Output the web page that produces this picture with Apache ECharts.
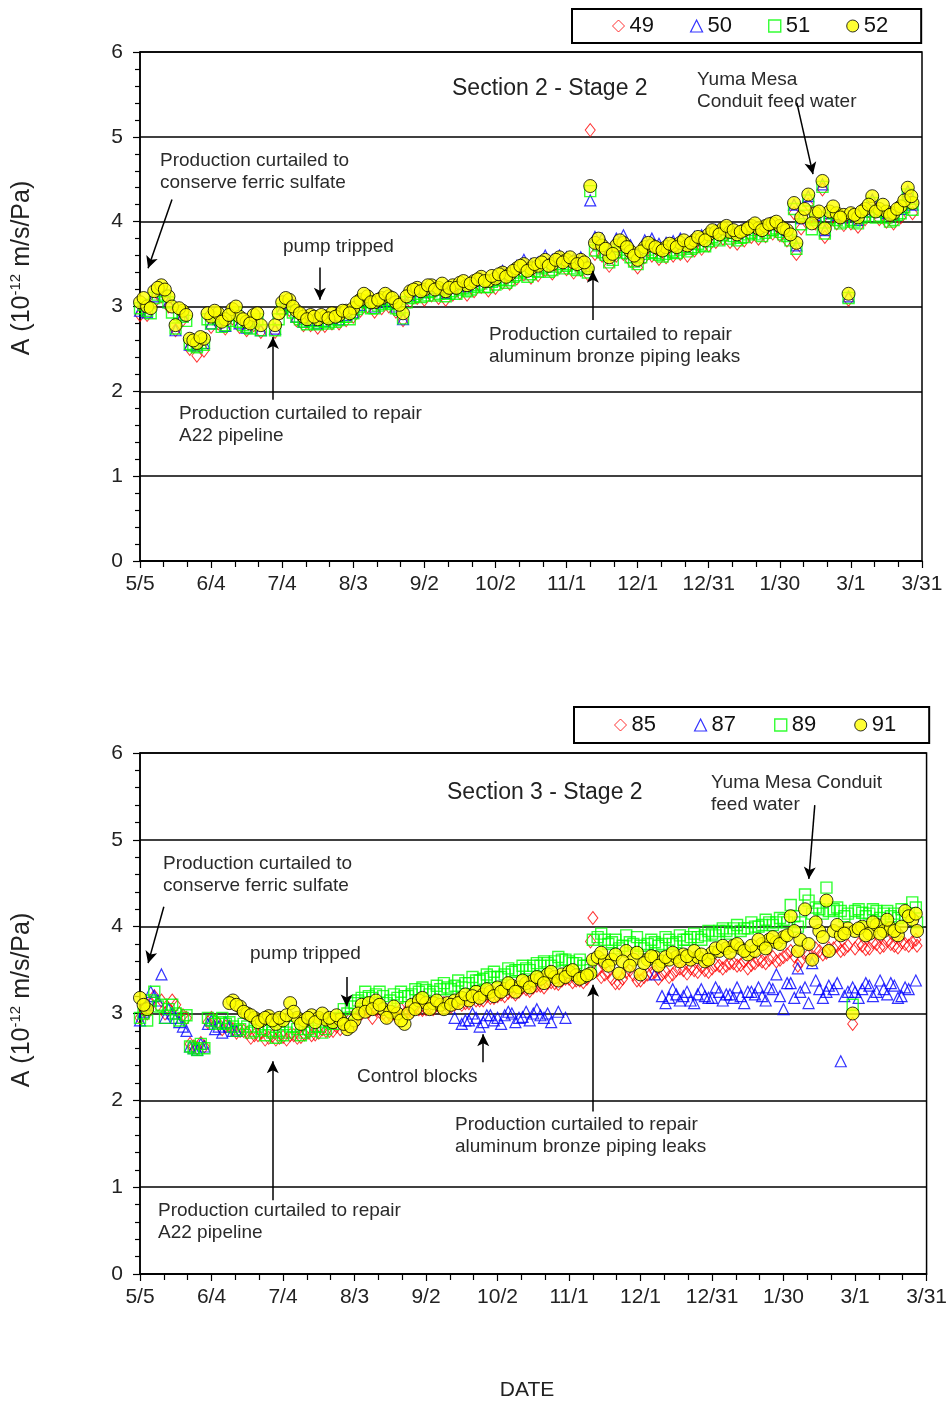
<!DOCTYPE html>
<html>
<head>
<meta charset="utf-8">
<title>Section 2 / Section 3 - Stage 2</title>
<script src="https://cdn.jsdelivr.net/npm/echarts@6/dist/echarts.min.js"></script>
<style>
  html, body { margin: 0; padding: 0; background: #fff; }
  #chart { width: 950px; height: 1402px; }
</style>
</head>
<body>
<div id="chart"></div>
<script>
// x = days after 5/5, ticks every 30 days
const dateLabels = ['5/5', '6/4', '7/4', '8/3', '9/2', '10/2', '11/1', '12/1', '12/31', '1/30', '3/1', '3/31']

// ---- Section 2 - Stage 2 ----
const days1 = [0, 3, 6, 9, 12, 15, 18, 21, 24, 27, 30, 33, 36, 39, 42, 45, 48, 51,
  57, 60, 63, 66, 69, 72, 75, 78, 81, 84, 87, 90, 93, 96, 99, 102, 105, 108, 111, 114, 117, 120,
  123, 126, 129, 132, 135, 138, 141, 144, 147, 150, 153, 156, 159, 162, 165, 168, 171, 174, 177, 180,
  183, 186, 189, 190,
  192, 195, 198, 201, 204, 207, 210, 213, 216, 219, 222, 225, 228, 231, 234, 237, 240, 243, 246, 249,
  252, 255, 258, 261, 264, 267, 270, 273, 276, 277, 279, 282, 285, 288, 289, 291, 294, 297, 299,
  300, 303, 306, 309, 312, 315, 318, 321, 324, 326]

const s49 = [2.90, 2.90, 3.05, 3.12, 3.00, 2.72, 2.84, 2.50, 2.42, 2.48, 2.76, 2.80, 2.74, 2.86, 2.76, 2.72, 2.78, 2.70,
  2.70, 2.93, 2.96, 2.84, 2.78, 2.78, 2.75, 2.77, 2.80, 2.80, 2.84, 2.88, 2.95, 3.00, 2.94, 2.98, 3.00, 2.94, 2.84, 3.06, 3.10, 3.08,
  3.13, 3.10, 3.08, 3.14, 3.16, 3.14, 3.18, 3.23, 3.19, 3.22, 3.28, 3.27, 3.33, 3.38, 3.34, 3.37, 3.43, 3.39, 3.46, 3.44,
  3.40, 3.43, 3.38, 5.08,
  3.62, 3.60, 3.48, 3.60, 3.62, 3.54, 3.46, 3.58, 3.60, 3.56, 3.58, 3.60, 3.62, 3.60, 3.66, 3.68, 3.72, 3.76, 3.80, 3.76,
  3.74, 3.78, 3.82, 3.80, 3.83, 3.86, 3.84, 3.78, 4.10, 3.62, 3.92, 4.20, 3.98, 4.38, 3.82, 4.00, 3.98, 3.96, 3.08,
  3.98, 3.94, 4.03, 4.18, 4.03, 4.00, 3.98, 4.05, 4.28, 4.10]

const s50 = [2.95, 2.93, 3.12, 3.20, 3.05, 2.72, 2.90, 2.55, 2.54, 2.57, 2.80, 2.85, 2.77, 2.90, 2.80, 2.75, 2.83, 2.72,
  2.74, 2.98, 3.02, 2.88, 2.82, 2.84, 2.80, 2.83, 2.86, 2.85, 2.90, 2.93, 3.02, 3.08, 3.00, 3.05, 3.07, 3.00, 2.85, 3.14, 3.18, 3.17,
  3.22, 3.20, 3.16, 3.22, 3.26, 3.24, 3.30, 3.34, 3.30, 3.34, 3.42, 3.40, 3.48, 3.55, 3.50, 3.52, 3.60, 3.55, 3.60, 3.58,
  3.56, 3.58, 3.48, 4.25,
  3.82, 3.80, 3.66, 3.80, 3.84, 3.72, 3.62, 3.78, 3.80, 3.74, 3.75, 3.77, 3.80, 3.76, 3.82, 3.84, 3.88, 3.90, 3.94, 3.90,
  3.87, 3.92, 3.96, 3.93, 3.96, 3.98, 3.96, 3.90, 4.20, 3.72, 4.04, 4.30, 4.08, 4.44, 3.90, 4.10, 4.08, 4.05, 3.12,
  4.08, 4.02, 4.12, 4.26, 4.12, 4.10, 4.08, 4.15, 4.36, 4.20]

const s51 = [2.98, 2.95, 3.10, 3.18, 3.05, 2.74, 2.88, 2.56, 2.52, 2.55, 2.80, 2.86, 2.78, 2.90, 2.82, 2.76, 2.82, 2.72,
  2.72, 2.97, 3.00, 2.88, 2.82, 2.83, 2.79, 2.82, 2.85, 2.84, 2.88, 2.92, 3.00, 3.05, 2.98, 3.03, 3.05, 2.98, 2.86, 3.10, 3.15, 3.13,
  3.18, 3.15, 3.12, 3.18, 3.20, 3.18, 3.23, 3.27, 3.23, 3.26, 3.32, 3.31, 3.37, 3.42, 3.38, 3.41, 3.47, 3.43, 3.50, 3.48,
  3.45, 3.47, 3.40, 4.36,
  3.66, 3.64, 3.52, 3.64, 3.67, 3.58, 3.50, 3.62, 3.64, 3.61, 3.62, 3.64, 3.67, 3.65, 3.70, 3.72, 3.77, 3.80, 3.84, 3.80,
  3.78, 3.82, 3.87, 3.85, 3.87, 3.90, 3.88, 3.83, 4.15, 3.68, 3.97, 4.25, 4.02, 4.41, 3.86, 4.04, 4.02, 4.00, 3.10,
  4.02, 3.98, 4.07, 4.22, 4.07, 4.05, 4.02, 4.10, 4.32, 4.14]

const s52 = [3.05, 3.00, 3.18, 3.25, 3.12, 2.78, 2.95, 2.62, 2.57, 2.62, 2.88, 2.92, 2.85, 2.97, 2.88, 2.82, 2.90, 2.78,
  2.78, 3.05, 3.08, 2.95, 2.88, 2.90, 2.85, 2.88, 2.92, 2.90, 2.95, 2.98, 3.08, 3.12, 3.05, 3.10, 3.12, 3.05, 2.92, 3.18, 3.22, 3.20,
  3.25, 3.22, 3.18, 3.25, 3.28, 3.25, 3.30, 3.35, 3.30, 3.33, 3.40, 3.38, 3.45, 3.50, 3.45, 3.48, 3.55, 3.50, 3.58, 3.55,
  3.52, 3.55, 3.45, 4.42,
  3.75, 3.72, 3.58, 3.72, 3.75, 3.65, 3.55, 3.70, 3.72, 3.68, 3.70, 3.72, 3.75, 3.72, 3.78, 3.80, 3.85, 3.88, 3.92, 3.88,
  3.85, 3.90, 3.95, 3.92, 3.95, 3.98, 3.95, 3.90, 4.22, 3.75, 4.05, 4.32, 4.10, 4.48, 3.92, 4.12, 4.10, 4.08, 3.15,
  4.10, 4.05, 4.15, 4.30, 4.15, 4.12, 4.10, 4.18, 4.40, 4.22]

// in-between readings (blocks 51 and 52)
const days1b = [1.5, 4.5, 7.5, 10.5, 13.5, 16.5, 19.5, 22.5, 25.5, 28.5, 31.5, 34.5, 37.5, 40.5, 43.5, 46.5, 49.5,
  58.5, 61.5, 64.5, 67.5, 70.5, 73.5, 76.5, 79.5, 82.5, 85.5, 88.5, 91.5, 94.5, 97.5, 100.5, 103.5, 106.5, 109.5, 112.5, 115.5,
  118.5, 121.5, 124.5, 127.5, 130.5, 133.5, 136.5, 139.5, 142.5, 145.5, 148.5, 151.5, 154.5, 157.5, 160.5, 163.5, 166.5, 169.5,
  172.5, 175.5, 178.5, 181.5, 184.5, 187.5,
  193.5, 196.5, 199.5, 202.5, 205.5, 208.5, 211.5, 214.5, 217.5, 220.5, 223.5, 226.5, 229.5, 232.5, 235.5, 238.5, 241.5, 244.5,
  247.5, 250.5, 253.5, 256.5, 259.5, 262.5, 265.5, 268.5, 271.5, 274.5,
  280.5, 283.5, 286.5, 292.5, 295.5,
  301.5, 304.5, 307.5, 310.5, 313.5, 316.5, 319.5, 322.5, 325.5]

const s51b = [3.02, 2.92, 3.14, 3.12, 2.93, 2.90, 2.83, 2.54, 2.57, 2.85, 2.88, 2.76, 2.83, 2.92, 2.78, 2.74, 2.85,
  2.85, 3.02, 2.93, 2.85, 2.79, 2.81, 2.83, 2.80, 2.82, 2.88, 2.85, 2.97, 3.07, 2.98, 3.01, 3.08, 3.03, 2.96, 3.05, 3.12,
  3.11, 3.17, 3.13, 3.20, 3.15, 3.15, 3.22, 3.20, 3.25, 3.23, 3.29, 3.31, 3.28, 3.35, 3.40, 3.35, 3.42, 3.45,
  3.41, 3.47, 3.45, 3.50, 3.43, 3.45,
  3.72, 3.61, 3.55, 3.70, 3.63, 3.53, 3.58, 3.67, 3.63, 3.59, 3.66, 3.63, 3.70, 3.68, 3.74, 3.71, 3.82, 3.78,
  3.87, 3.83, 3.81, 3.85, 3.90, 3.83, 3.90, 3.92, 3.85, 3.78,
  4.07, 3.91, 4.05, 4.10, 3.98,
  4.00, 4.05, 4.12, 4.05, 4.12, 4.00, 4.08, 4.17, 4.22]

const s52b = [3.10, 2.98, 3.22, 3.20, 3.00, 2.98, 2.90, 2.60, 2.64, 2.92, 2.95, 2.82, 2.90, 3.00, 2.85, 2.80, 2.92,
  2.92, 3.10, 3.00, 2.92, 2.85, 2.88, 2.90, 2.86, 2.88, 2.95, 2.92, 3.05, 3.15, 3.05, 3.08, 3.15, 3.10, 3.02, 3.12, 3.20,
  3.18, 3.25, 3.20, 3.27, 3.22, 3.22, 3.30, 3.27, 3.32, 3.30, 3.36, 3.38, 3.35, 3.42, 3.48, 3.42, 3.50, 3.52,
  3.48, 3.55, 3.52, 3.58, 3.50, 3.52,
  3.80, 3.68, 3.62, 3.78, 3.70, 3.60, 3.65, 3.75, 3.70, 3.66, 3.74, 3.70, 3.78, 3.75, 3.82, 3.78, 3.90, 3.85,
  3.95, 3.90, 3.88, 3.92, 3.98, 3.90, 3.97, 4.00, 3.92, 3.85,
  4.15, 3.98, 4.12, 4.18, 4.05,
  4.08, 4.12, 4.20, 4.12, 4.20, 4.08, 4.15, 4.25, 4.30]

// ---- Section 3 - Stage 2 ----
const days2 = [0, 3, 6, 9, 12, 15, 18, 21, 24, 27, 30, 33, 36,
  39, 42, 45, 48, 51, 54, 57, 60, 63, 66, 69, 72, 75, 78, 81, 84, 87, 90, 93, 96, 99, 102, 105, 108, 111,
  114, 117, 120, 123, 126, 129, 132, 135, 138, 141, 144, 147, 150, 153, 156, 159, 162, 165, 168, 171,
  174, 177, 180, 183, 186, 189, 190,
  192, 195, 198, 201, 204, 207, 210, 213, 216, 219, 222, 225, 228, 231, 234, 237, 240, 243, 246, 249,
  252, 255, 258, 261, 264, 267, 270, 273, 276, 277, 279, 282, 285, 288, 289, 291, 294, 297, 299,
  300, 303, 306, 309, 312, 315, 318, 321, 324, 326]

const s85 = [2.95, 3.00, 3.20, 3.15, 3.05, 3.10, 2.98, 2.65, 2.60, 2.62, 2.95, 2.88, 2.85,
  2.82, 2.80, 2.78, 2.75, 2.78, 2.72, 2.70, 2.73, 2.75, 2.72, 2.76, 2.75, 2.78, 2.80, 2.80, 2.82, 2.85, 2.88, 3.00, 3.02, 3.05, 3.00, 2.98, 2.95, 3.00,
  3.02, 3.05, 3.05, 3.05, 3.06, 3.08, 3.10, 3.10, 3.12, 3.15, 3.15, 3.18, 3.20, 3.20, 3.25, 3.25, 3.28, 3.30, 3.32, 3.35,
  3.35, 3.38, 3.40, 3.38, 3.36, 3.83, 4.10,
  3.50, 3.45, 3.40, 3.35, 3.48, 3.45, 3.38, 3.45, 3.48, 3.45, 3.42, 3.50, 3.50, 3.52, 3.48, 3.50, 3.52, 3.55, 3.55, 3.58,
  3.56, 3.52, 3.58, 3.60, 3.62, 3.60, 3.65, 3.72, 3.55, 3.60, 3.70, 3.62, 3.72, 3.70, 3.75, 3.75, 3.72, 3.78, 2.88,
  3.75, 3.78, 3.75, 3.80, 3.78, 3.80, 3.76, 3.80, 3.82, 3.78]

const s87 = [2.92, 3.10, 3.20, 3.45, 3.05, 2.95, 2.85, 2.62, 2.58, 2.62, 2.92, 2.85, 2.90,
  2.80, null, null, null, null, null, null, null, null, null, null, null, null, null, null, null, null, null, null, null, null, null, null,
  null, null, null, null, null, null, null, null, 2.95, 2.88, 2.92, 2.95, 2.90, 2.98, 2.95, 2.98, 3.00, 2.95, 3.02, 3.00,
  2.98, 3.00, null, null, null, null, null,
  null, null, null, null, null, null, null, null, null, null, 3.45, 3.20, 3.18, 3.22, 3.20, 3.15, 3.22, 3.20, 3.18, 3.25,
  3.22, 3.18, 3.20, 3.25, 3.22, 3.20, 3.30, 3.45, 3.05, 3.35, 3.52, 3.25, 3.30, 3.58, 3.28, 3.25, 3.32, 3.28, 2.45,
  3.25, 3.30, 3.25, 3.28, 3.32, 3.25, 3.28, 3.35, 3.18, 3.30]

const s89 = [2.95, 2.92, 3.25, 3.10, 3.05, 3.00, 2.95, 2.62, 2.58, 2.60, 2.92, 2.90, 2.88,
  2.85, 2.82, 2.85, 2.80, 2.82, 2.80, 2.72, 2.75, 2.85, 2.82, 2.78, 2.80, 2.85, 2.82, 2.88, 2.95, 3.00, 3.12, 3.18, 3.20, 3.22, 3.20, 3.15, 3.18, 3.20,
  3.22, 3.25, 3.27, 3.25, 3.28, 3.30, 3.32, 3.30, 3.35, 3.38, 3.40, 3.42, 3.42, 3.45, 3.48, 3.50, 3.52, 3.55, 3.55, 3.58,
  3.60, 3.62, 3.60, 3.58, 3.55, 3.50, 3.85,
  3.88, 3.85, 3.82, 3.75, 3.90, 3.80, 3.78, 3.80, 3.82, 3.80, 3.85, 3.82, 3.85, 3.88, 3.88, 3.90, 3.92, 3.95, 3.95, 3.98,
  3.95, 3.98, 4.00, 4.02, 4.05, 4.05, 4.08, 4.25, 4.00, 4.05, 4.37, 4.15, 4.20, 4.45, 4.18, 4.20, 4.18, 4.15, 3.10,
  4.18, 4.16, 4.15, 4.18, 4.15, 4.12, 4.10, 4.12, 4.28, 4.05]

const s91 = [3.18, 3.05, null, null, null, null, null, null, null, null, null, null, null,
  3.15, 3.08, 3.00, 2.95, 2.92, 2.97, 2.88, 2.92, 3.12, 2.95, 2.92, 2.98, 2.95, 2.93, 2.90, 2.93, 2.82, 2.92, 3.10, 3.12, 3.15, 3.05, 3.02, 3.00, 2.88,
  3.10, 3.15, 3.12, 3.12, 3.10, 3.12, 3.15, 3.18, 3.15, 3.25, 3.22, 3.25, 3.30, 3.28, 3.32, 3.30, 3.35, 3.38, 3.40, 3.45,
  3.42, 3.45, 3.48, 3.44, 3.42, 3.46, 3.62,
  3.65, 3.60, 3.62, 3.46, 3.72, 3.62, 3.45, 3.62, 3.65, 3.60, 3.62, 3.65, 3.68, 3.62, 3.65, 3.60, 3.70, 3.72, 3.75, 3.78,
  3.75, 3.68, 3.72, 3.80, 3.85, 3.82, 3.88, 4.12, 3.72, 3.85, 4.20, 3.62, 3.95, 4.30, 3.72, 3.95, 3.90, 3.98, 3.00,
  3.95, 4.00, 3.92, 4.02, 3.95, 3.98, 3.90, 4.18, 4.08, 3.95]

// in-between readings (all four blocks)
const days2b = [1.5, 4.5, 7.5, 10.5, 13.5, 16.5, 19.5, 22.5, 25.5, 28.5, 31.5, 34.5,
  37.5, 40.5, 43.5, 46.5, 49.5, 52.5, 55.5, 58.5, 61.5, 64.5, 67.5, 70.5, 73.5, 76.5, 79.5, 82.5, 85.5, 88.5, 91.5, 94.5,
  97.5, 100.5, 103.5, 106.5, 109.5, 112.5, 115.5, 118.5, 121.5, 124.5, 127.5, 130.5, 133.5, 136.5, 139.5, 142.5, 145.5,
  148.5, 151.5, 154.5, 157.5, 160.5, 163.5, 166.5, 169.5, 172.5, 175.5, 178.5, 181.5, 184.5, 187.5,
  193.5, 196.5, 199.5, 202.5, 205.5, 208.5, 211.5, 214.5, 217.5, 220.5, 223.5, 226.5, 229.5, 232.5, 235.5, 238.5, 241.5, 244.5,
  247.5, 250.5, 253.5, 256.5, 259.5, 262.5, 265.5, 268.5, 271.5, 274.5,
  280.5, 283.5, 286.5, 292.5, 295.5,
  301.5, 304.5, 307.5, 310.5, 313.5, 316.5, 319.5, 322.5, 325.5]

const s85b = [3.05, 3.12, 3.10, 3.00, 3.15, 3.00, 2.95, 2.62, 2.66, 2.90, 2.92, 2.82,
  2.85, 2.78, 2.80, 2.72, 2.75, 2.70, 2.74, 2.72, 2.70, 2.75, 2.73, 2.78, 2.76, 2.82, 2.80, 2.85, 2.90, 2.95, 2.98, 3.05,
  2.95, 3.02, 2.96, 3.00, 3.05, 3.02, 3.08, 3.04, 3.06, 3.10, 3.12, 3.08, 3.14, 3.12, 3.18, 3.15, 3.20,
  3.18, 3.22, 3.24, 3.22, 3.30, 3.26, 3.32, 3.30, 3.36, 3.34, 3.40, 3.36, 3.38, 3.40,
  3.42, 3.48, 3.35, 3.40, 3.50, 3.38, 3.42, 3.46, 3.40, 3.48, 3.45, 3.52, 3.46, 3.50, 3.54, 3.48, 3.56, 3.52,
  3.58, 3.55, 3.60, 3.56, 3.62, 3.58, 3.65, 3.62, 3.68, 3.66,
  3.68, 3.75, 3.68, 3.78, 3.74,
  3.80, 3.74, 3.82, 3.76, 3.84, 3.78, 3.82, 3.78, 3.85]

const s87b = [3.02, 3.25, 3.15, 2.95, 3.00, 2.90, 2.80, 2.60, 2.65, 2.88, 2.82, 2.78,
  2.85, 2.80, null, null, null, null, null, null, null, null, null, null, null, null, null, null, null, null, null, null,
  null, null, null, null, null, null, null, null, null, null, null, null, null, 2.92, 3.00, 2.85, 2.98,
  2.92, 2.88, 3.02, 2.90, 2.96, 2.92, 3.05, 2.95, 2.90, 3.02, 2.95, null, null, null,
  null, null, null, null, null, null, null, null, null, 3.12, 3.28, 3.15, 3.25, 3.12, 3.28, 3.18, 3.30, 3.15,
  3.22, 3.30, 3.12, 3.25, 3.30, 3.15, 3.28, 3.20, 3.35, 3.18,
  3.12, 3.38, 3.18, 3.35, 3.20,
  3.18, 3.35, 3.20, 3.38, 3.22, 3.32, 3.20, 3.28, 3.38]

const s89b = [3.00, 3.15, 3.08, 2.95, 3.10, 2.92, 2.98, 2.60, 2.65, 2.95, 2.88, 2.95,
  2.90, 2.80, 2.88, 2.78, 2.85, 2.75, 2.78, 2.80, 2.78, 2.85, 2.75, 2.82, 2.85, 2.78, 2.90, 2.92, 3.05, 3.08, 3.15, 3.25,
  3.18, 3.25, 3.12, 3.22, 3.25, 3.20, 3.28, 3.30, 3.22, 3.32, 3.35, 3.28, 3.38, 3.35, 3.42, 3.38, 3.45,
  3.48, 3.42, 3.52, 3.50, 3.55, 3.50, 3.58, 3.60, 3.55, 3.65, 3.62, 3.58, 3.62, 3.55,
  3.92, 3.80, 3.85, 3.78, 3.82, 3.88, 3.75, 3.85, 3.78, 3.88, 3.80, 3.90, 3.85, 3.92, 3.85, 3.95, 3.90, 3.98,
  3.92, 4.02, 3.98, 4.05, 4.00, 4.08, 4.02, 4.10, 4.05, 4.12,
  4.30, 4.22, 4.15, 4.22, 4.12,
  4.20, 4.12, 4.20, 4.10, 4.18, 4.15, 4.20, 4.15, 4.22]

const s91b = [3.10, null, null, null, null, null, null, null, null, null, null, null,
  3.12, 3.10, 3.02, 2.98, 2.90, 2.95, 2.92, 2.95, 2.98, 3.02, 2.88, 2.95, 2.90, 3.00, 2.95, 2.98, 2.88, 2.85, 3.00, 3.02,
  3.05, 3.10, 2.95, 3.08, 2.92, 3.00, 3.05, 3.18, 3.05, 3.15, 3.05, 3.10, 3.12, 3.22, 3.20, 3.18, 3.28,
  3.20, 3.25, 3.35, 3.25, 3.38, 3.30, 3.42, 3.35, 3.48, 3.38, 3.42, 3.50, 3.40, 3.44,
  3.70, 3.55, 3.68, 3.60, 3.55, 3.70, 3.58, 3.66, 3.55, 3.65, 3.70, 3.60, 3.66, 3.72, 3.68, 3.62, 3.75, 3.78,
  3.70, 3.80, 3.72, 3.78, 3.85, 3.75, 3.88, 3.80, 3.90, 3.95,
  3.80, 4.05, 3.88, 4.02, 3.92,
  3.98, 3.90, 4.05, 3.92, 4.08, 3.95, 4.00, 4.12, 4.15]

const FONT = 'Liberation Sans, Arial, sans-serif'
const TXT = '#222'

const chart = echarts.init(document.getElementById('chart'))

function pts (days, vals) {
  return days.map((d, i) => [d, vals[i] == null ? '-' : vals[i]])
}

// marker looks (hollow markers keep a see-through inside like the original)
const looks = {
  red: { symbol: 'diamond', symbolSize: [10, 13], itemStyle: { color: 'rgba(0,0,0,0)', borderColor: '#ff0000', borderWidth: 1 } },
  blue: { symbol: 'triangle', symbolSize: 11, itemStyle: { color: 'rgba(0,0,0,0)', borderColor: '#0000ff', borderWidth: 1.2 } },
  green: { symbol: 'rect', symbolSize: 11, itemStyle: { color: 'rgba(0,0,0,0)', borderColor: '#00ff00', borderWidth: 1.4 } },
  yellow: { symbol: 'circle', symbolSize: 13, itemStyle: { color: '#ffff00', borderColor: '#000', borderWidth: 1 } }
}

function scatter (name, grid, days, vals, look, arrows) {
  const s = {
    name: name,
    type: 'scatter',
    xAxisIndex: grid,
    yAxisIndex: grid,
    symbol: look.symbol,
    symbolSize: look.symbolSize,
    itemStyle: look.itemStyle,
    emphasis: { disabled: true },
    data: pts(days, vals)
  }
  if (arrows) {
    s.markLine = {
      silent: true,
      symbol: ['none', 'arrow'],
      symbolSize: [9, 12],
      label: { show: false },
      lineStyle: { color: '#000', width: 1.5, type: 'solid' },
      data: arrows.map(a => [{ coord: [a[0], a[1]] }, { coord: [a[2], a[3]] }])
    }
  }
  return s
}

// arrows: [from day, from A, to day, to A]
const arrows1 = [
  [13.5, 4.26, 3.4, 3.45],
  [75.9, 3.46, 75.9, 3.08],
  [56.1, 1.90, 56.1, 2.64],
  [191.1, 2.84, 191.1, 3.42],
  [277.2, 5.40, 284.0, 4.56]
]
const arrows2 = [
  [10.0, 4.23, 3.4, 3.58],
  [86.7, 3.42, 86.7, 3.08],
  [144.0, 2.44, 144.0, 2.76],
  [190.1, 1.87, 190.1, 3.33],
  [55.7, 0.85, 55.7, 2.45],
  [283.1, 5.40, 280.6, 4.55]
]

function xAxis (grid) {
  return {
    type: 'value',
    gridIndex: grid,
    min: 0,
    max: 330,
    interval: 30,
    axisLine: { lineStyle: { color: '#000', width: 1.5 } },
    axisTick: { length: 7, lineStyle: { color: '#000', width: 1.2 } },
    minorTick: { show: true, splitNumber: 3, length: 6, lineStyle: { color: '#000', width: 1.2 } },
    splitLine: { show: false },
    axisLabel: {
      margin: 13,
      fontSize: 21,
      fontFamily: FONT,
      color: TXT,
      formatter: v => dateLabels[Math.round(v / 30)]
    }
  }
}

function yAxis (grid) {
  return {
    type: 'value',
    gridIndex: grid,
    min: 0,
    max: 6,
    interval: 1,
    axisLine: { show: true, lineStyle: { color: '#000', width: 1.5 } },
    axisTick: { show: true, length: 7, lineStyle: { color: '#000', width: 1.2 } },
    minorTick: { show: true, splitNumber: 5, length: 5, lineStyle: { color: '#000', width: 1.2 } },
    splitLine: { show: true, lineStyle: { color: '#000', width: 1.6 } },
    axisLabel: { margin: 17, fontSize: 21, fontFamily: FONT, color: TXT }
  }
}

function legend (names, looksList, left, top, gap, pad) {
  return {
    data: names.map((n, i) => ({ name: n, icon: looksList[i].symbol, itemStyle: looksList[i].itemStyle })),
    left: left,
    top: top,
    orient: 'horizontal',
    selectedMode: false,
    itemGap: gap,
    itemWidth: 12,
    itemHeight: 12,
    padding: pad,
    borderColor: '#000',
    borderWidth: 2,
    textStyle: { fontSize: 22, fontFamily: FONT, color: '#111', lineHeight: 24 }
  }
}

// annotation texts: [left x, centre y of first line, lines]
const notes = [
  [160, 161, ['Production curtailed to', 'conserve ferric sulfate']],
  [283, 247, ['pump tripped']],
  [179, 414, ['Production curtailed to repair', 'A22 pipeline']],
  [489, 335, ['Production curtailed to repair', 'aluminum bronze piping leaks']],
  [697, 80, ['Yuma Mesa', 'Conduit feed water']],
  [163, 864, ['Production curtailed to', 'conserve ferric sulfate']],
  [250, 954, ['pump tripped']],
  [357, 1077, ['Control blocks']],
  [455, 1125, ['Production curtailed to repair', 'aluminum bronze piping leaks']],
  [158, 1211, ['Production curtailed to repair', 'A22 pipeline']],
  [711, 783, ['Yuma Mesa Conduit', 'feed water']]
]

const graphics = []
notes.forEach(n => {
  n[2].forEach((line, i) => {
    graphics.push({
      type: 'text', x: n[0], y: n[1] + i * 21.5, silent: true,
      style: { text: line, fontSize: 19, fontFamily: FONT, fill: '#2a2a2a', align: 'left', verticalAlign: 'middle' }
    })
  })
})
graphics.push(
  { type: 'text', x: 452, y: 89, silent: true, style: { text: 'Section 2 - Stage 2', fontSize: 23, fontFamily: FONT, fill: TXT, align: 'left', verticalAlign: 'middle' } },
  { type: 'text', x: 447, y: 793, silent: true, style: { text: 'Section 3 - Stage 2', fontSize: 23, fontFamily: FONT, fill: TXT, align: 'left', verticalAlign: 'middle' } },
  { type: 'text', x: 527, y: 1390, silent: true, style: { text: 'DATE', fontSize: 21, fontFamily: FONT, fill: TXT, align: 'center', verticalAlign: 'middle' } }
)
;[268, 1000].forEach(cy => {
  graphics.push({
    type: 'text', x: 22, y: cy, rotation: Math.PI / 2, silent: true,
    style: {
      text: '{a|A (10}{s|-12}{a| m/s/Pa)}',
      align: 'center',
      verticalAlign: 'middle',
      fill: TXT,
      rich: {
        a: { fontSize: 25, fontFamily: FONT, fill: TXT, lineHeight: 28 },
        s: { fontSize: 15, fontFamily: FONT, fill: TXT, verticalAlign: 'top', lineHeight: 28 }
      }
    }
  })
})

const option = {
  animation: false,
  backgroundColor: '#fff',
  grid: [
    { left: 140, top: 52, width: 782, height: 509, show: true, borderColor: '#000', borderWidth: 1.5 },
    { left: 140, top: 753, width: 788, height: 521, show: true, borderColor: '#000', borderWidth: 1.5 }
  ],
  xAxis: [xAxis(0), xAxis(1)],
  yAxis: [yAxis(0), yAxis(1)],
  legend: [
    legend(['49', '50', '51', '52'], [looks.red, looks.blue, looks.green, looks.yellow], 572, 9, 36, [5, 33, 5, 40]),
    legend(['85', '87', '89', '91'], [looks.red, looks.blue, looks.green, looks.yellow], 574, 707, 38, [6, 33, 6, 40])
  ],
  series: [
    scatter('49', 0, days1, s49, looks.red),
    scatter('50', 0, days1, s50, looks.blue),
    scatter('51', 0, days1, s51, looks.green),
    scatter('51', 0, days1b, s51b, looks.green),
    scatter('52', 0, days1, s52, looks.yellow),
    scatter('52', 0, days1b, s52b, looks.yellow, arrows1),
    scatter('85', 1, days2, s85, looks.red),
    scatter('85', 1, days2b, s85b, looks.red),
    scatter('87', 1, days2, s87, looks.blue),
    scatter('87', 1, days2b, s87b, looks.blue),
    scatter('89', 1, days2, s89, looks.green),
    scatter('89', 1, days2b, s89b, looks.green),
    scatter('91', 1, days2, s91, looks.yellow),
    scatter('91', 1, days2b, s91b, looks.yellow, arrows2)
  ],
  graphic: graphics
}

chart.setOption(option)
</script>
</body>
</html>
